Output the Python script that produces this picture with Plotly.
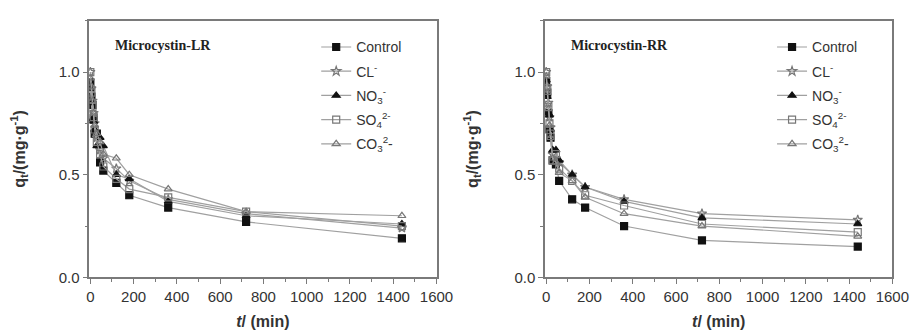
import plotly.graph_objects as go

times = [0, 5, 10, 15, 20, 30, 45, 60, 120, 180, 360, 720, 1440]

series_names = ["Control", "CL<sup>-</sup>", "NO<sub>3</sub><sup>-</sup>",
                "SO<sub>4</sub><sup>2-</sup>", "CO<sub>3</sub><sup>2</sup>-"]

lr_control = [0.95, 0.88, 0.84, 0.77, 0.70, 0.70, 0.56, 0.52, 0.46, 0.40, 0.34, 0.27, 0.19]
lr_cl      = [1.00, 0.92, 0.86, 0.80, 0.75, 0.68, 0.62, 0.58, 0.53, 0.47, 0.38, 0.31, 0.24]
lr_no3     = [0.92, 0.85, 0.77, 0.76, 0.72, 0.64, 0.68, 0.64, 0.50, 0.48, 0.37, 0.30, 0.26]
lr_so4     = [1.00, 0.90, 0.83, 0.78, 0.72, 0.66, 0.60, 0.54, 0.48, 0.43, 0.39, 0.32, 0.25]
lr_co3     = [0.97, 0.93, 0.86, 0.80, 0.74, 0.70, 0.66, 0.60, 0.58, 0.50, 0.43, 0.32, 0.30]

rr_control = [0.95, 0.90, 0.80, 0.72, 0.68, 0.57, 0.55, 0.47, 0.38, 0.34, 0.25, 0.18, 0.15]
rr_cl      = [1.00, 0.93, 0.85, 0.78, 0.73, 0.60, 0.58, 0.56, 0.50, 0.44, 0.38, 0.31, 0.28]
rr_no3     = [0.96, 0.88, 0.80, 0.79, 0.72, 0.62, 0.62, 0.57, 0.50, 0.44, 0.37, 0.29, 0.26]
rr_so4     = [1.00, 0.92, 0.83, 0.75, 0.70, 0.57, 0.60, 0.53, 0.47, 0.40, 0.35, 0.26, 0.22]
rr_co3     = [0.98, 0.90, 0.82, 0.74, 0.68, 0.58, 0.56, 0.51, 0.47, 0.39, 0.31, 0.25, 0.20]

panel_titles = ["Microcystin-LR", "Microcystin-RR"]
x_ticks = [0, 200, 400, 600, 800, 1000, 1200, 1400, 1600]
y_ticks = [0.0, 0.5, 1.0]

lr_data = [lr_control, lr_cl, lr_no3, lr_so4, lr_co3]
rr_data = [rr_control, rr_cl, rr_no3, rr_so4, rr_co3]

symbols = ["square", "star-open", "triangle-up", "square-open", "triangle-up-open"]
mcolors = ["#111111", "#777777", "#111111", "#777777", "#777777"]
line_col = "#a0a0a0"
text_col = "#333333"
axis_col = "#7a7a7a"

fig = go.Figure()

for panel, data in enumerate([lr_data, rr_data]):
    xa = "x" if panel == 0 else "x2"
    ya = "y" if panel == 0 else "y2"
    leg = "legend" if panel == 0 else "legend2"
    for i, vals in enumerate(data):
        fig.add_trace(go.Scatter(
            x=times, y=vals, name=series_names[i], mode="lines+markers",
            xaxis=xa, yaxis=ya, legend=leg, legendgroup=f"p{panel}s{i}",
            line=dict(color=line_col, width=1.2),
            marker=dict(symbol=symbols[i], size=7, color=mcolors[i],
                        line=dict(color=mcolors[i], width=1.2)),
        ))

W, H = 918, 333
left0, right0 = 80, 435
left1, right1 = 546, 901
top, bottom = 13, 276

def fx(px):
    return px / W

def fy(py):
    return 1 - py / H

axis_common = dict(
    showline=True, linecolor=axis_col, linewidth=1.5, mirror=True,
    ticks="outside", ticklen=5, tickwidth=1.3, tickcolor=axis_col,
    showgrid=False, zeroline=False,
    tickfont=dict(family="Liberation Sans, Arial", size=15, color=text_col),
)

xaxis_common = dict(axis_common, range=[-5, 1600], tickvals=x_ticks,
                    minor=dict(ticks="outside", ticklen=3, dtick=100, tick0=0,
                               tickcolor=axis_col, tickwidth=1.1),
                    title=dict(text="<b><i>t</i>/ (min)</b>", standoff=12,
                               font=dict(family="Liberation Sans, Arial", size=16, color=text_col)))
yaxis_common = dict(axis_common, range=[0, 1.25], tickvals=y_ticks, ticktext=["0.0", "0.5", "1.0"],
                    minor=dict(ticks="outside", ticklen=3, dtick=0.25, tick0=0,
                               tickcolor=axis_col, tickwidth=1.1),
                    title=dict(text="<b>q<sub>t</sub>/(mg·g<sup>-1</sup>)</b>", standoff=32,
                               font=dict(family="Liberation Sans, Arial", size=16, color=text_col)))

legend_common = dict(
    font=dict(family="Liberation Sans, Arial", size=14, color=text_col),
    bgcolor="rgba(0,0,0,0)", borderwidth=0, xanchor="left", yanchor="top",
    itemwidth=30, tracegroupgap=3,
)

fig.update_layout(
    width=W, height=H,
    margin=dict(l=0, r=0, t=0, b=0),
    paper_bgcolor="white", plot_bgcolor="white",
    showlegend=True,
    xaxis=dict(xaxis_common, domain=[fx(left0), fx(right0)], anchor="y"),
    yaxis=dict(yaxis_common, domain=[fy(bottom), fy(top)], anchor="x"),
    xaxis2=dict(xaxis_common, domain=[fx(left1), fx(right1)], anchor="y2"),
    yaxis2=dict(yaxis_common, domain=[fy(bottom), fy(top)], anchor="x2"),
    legend=dict(legend_common, x=fx(312), y=fy(24)),
    legend2=dict(legend_common, x=fx(778), y=fy(24)),
    annotations=[
        dict(text="<b>" + panel_titles[0] + "</b>", xref="paper", yref="paper",
             x=fx(104), y=fy(38), xanchor="left", yanchor="middle", showarrow=False,
             font=dict(family="Liberation Serif, Times New Roman", size=14, color="#222222")),
        dict(text="<b>" + panel_titles[1] + "</b>", xref="paper", yref="paper",
             x=fx(570), y=fy(38), xanchor="left", yanchor="middle", showarrow=False,
             font=dict(family="Liberation Serif, Times New Roman", size=14, color="#222222")),
    ],
)

fig.write_html("out.html")
